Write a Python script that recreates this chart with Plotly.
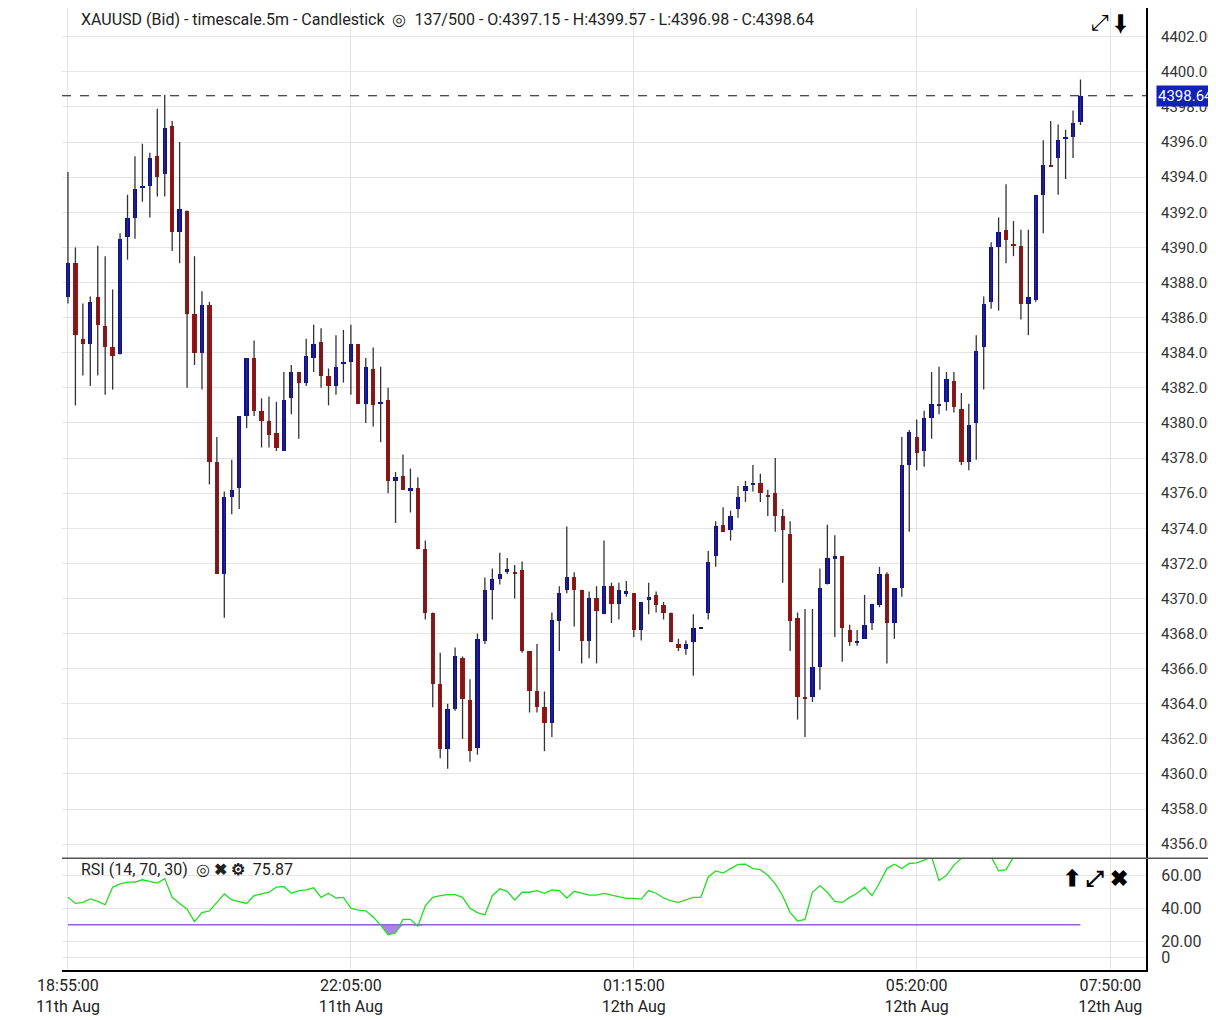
import plotly.graph_objects as go
from plotly.subplots import make_subplots
import numpy as np

# 5m candles, index positions on x
opens = [4387.2, 4389.1, 4384.8, 4384.5, 4387.2, 4385.5, 4384.3, 4383.9, 4390.6, 4391.7,
         4393.4, 4393.5, 4395.2, 4394.2, 4396.9, 4390.9, 4392.1, 4386.2, 4384.0, 4386.7,
         4377.8, 4371.4, 4375.8, 4376.3, 4380.4, 4383.7, 4380.7, 4380.1, 4379.4, 4378.4,
         4381.4, 4382.9, 4382.3, 4383.7, 4384.6, 4382.7, 4382.1, 4383.4, 4383.5, 4384.5,
         4381.1, 4383.1, 4381.1, 4381.3, 4376.7, 4377.0, 4376.1, 4376.3, 4372.8, 4369.2,
         4365.1, 4361.4, 4363.7, 4366.6, 4364.2, 4361.5, 4367.6, 4370.5, 4371.1, 4371.5,
         4371.5, 4371.6, 4367.0, 4364.7, 4363.8, 4362.9, 4368.7, 4370.5, 4371.2, 4370.5,
         4367.6, 4370.0, 4369.1, 4370.7, 4369.7, 4370.3, 4370.3, 4368.2, 4369.9, 4370.2,
         4369.6, 4369.2, 4367.4, 4367.1, 4367.5, 4368.3, 4369.2, 4372.4, 4374.2, 4373.9,
         4375.1, 4376.1, 4376.5, 4376.6, 4375.9, 4376.0, 4374.7, 4373.7, 4368.9, 4364.4,
         4364.4, 4366.1, 4370.8, 4372.3, 4372.4, 4368.2, 4367.5, 4367.7, 4368.6, 4369.6,
         4371.4, 4368.6, 4370.6, 4377.6, 4379.2, 4378.4, 4380.3, 4381.0, 4381.2, 4382.4,
         4380.8, 4377.8, 4380.0, 4384.3, 4386.9, 4390.0, 4391.0, 4390.2, 4390.1, 4386.8,
         4387.0, 4393.0, 4394.7, 4395.1, 4396.2, 4396.3, 4397.15]
highs = [4394.3, 4390.0, 4386.8, 4387.2, 4390.1, 4389.5, 4387.6, 4390.8, 4393.0, 4395.2,
         4395.9, 4395.4, 4397.9, 4398.7, 4397.2, 4396.0, 4392.1, 4389.5, 4387.5, 4386.9,
         4379.2, 4376.1, 4377.9, 4380.4, 4383.7, 4384.7, 4381.4, 4381.5, 4381.2, 4382.9,
         4383.3, 4382.9, 4384.8, 4385.6, 4385.4, 4383.1, 4385.0, 4385.3, 4385.6, 4384.5,
         4383.7, 4384.3, 4383.2, 4382.0, 4377.2, 4378.2, 4377.4, 4376.9, 4373.3, 4369.2,
         4366.9, 4364.0, 4367.2, 4366.7, 4365.4, 4368.0, 4371.2, 4371.7, 4372.6, 4372.3,
         4371.9, 4372.1, 4367.0, 4367.4, 4364.7, 4369.2, 4370.7, 4374.1, 4371.5, 4370.5,
         4370.4, 4370.7, 4373.3, 4370.9, 4370.9, 4371.0, 4370.3, 4369.8, 4370.9, 4370.4,
         4369.8, 4369.2, 4367.7, 4367.6, 4369.1, 4368.3, 4372.7, 4374.4, 4375.2, 4375.0,
         4376.4, 4376.7, 4377.6, 4377.1, 4376.2, 4378.0, 4375.1, 4374.4, 4369.2, 4369.4,
         4369.4, 4371.7, 4374.2, 4373.6, 4372.4, 4368.5, 4368.2, 4370.2, 4369.7, 4371.8,
         4371.5, 4370.6, 4379.2, 4379.6, 4380.2, 4380.7, 4382.9, 4383.2, 4382.9, 4382.9,
         4381.7, 4381.1, 4385.0, 4387.2, 4390.3, 4391.7, 4393.6, 4391.5, 4391.0, 4391.0,
         4393.0, 4396.1, 4397.2, 4397.0, 4396.7, 4397.8, 4399.57]
lows = [4386.8, 4381.0, 4382.7, 4382.1, 4382.7, 4381.6, 4381.9, 4383.9, 4389.3, 4390.5,
        4392.6, 4391.7, 4392.9, 4392.9, 4389.8, 4389.1, 4382.0, 4383.3, 4381.9, 4376.5,
        4371.4, 4368.9, 4374.8, 4375.1, 4379.7, 4380.4, 4378.6, 4378.6, 4378.4, 4378.4,
        4380.5, 4379.1, 4382.1, 4382.9, 4382.0, 4381.0, 4381.6, 4382.3, 4381.6, 4381.1,
        4380.0, 4379.8, 4378.9, 4376.0, 4374.3, 4376.2, 4374.9, 4372.8, 4368.8, 4363.8,
        4360.9, 4360.3, 4363.6, 4362.0, 4360.7, 4361.1, 4367.4, 4368.8, 4370.8, 4371.4,
        4370.0, 4366.9, 4363.5, 4363.5, 4361.3, 4362.1, 4367.0, 4370.3, 4368.4, 4366.3,
        4366.6, 4366.3, 4369.1, 4368.6, 4368.8, 4370.1, 4367.8, 4367.6, 4369.1, 4369.2,
        4368.8, 4367.5, 4367.0, 4366.8, 4365.6, 4368.3, 4368.8, 4371.8, 4373.8, 4373.3,
        4374.6, 4375.5, 4376.1, 4375.5, 4374.7, 4373.8, 4370.9, 4367.0, 4363.1, 4362.1,
        4364.1, 4364.8, 4370.8, 4367.8, 4366.4, 4367.3, 4367.3, 4367.7, 4368.2, 4369.5,
        4366.3, 4367.7, 4370.1, 4373.8, 4377.3, 4377.5, 4379.1, 4380.5, 4380.7, 4380.6,
        4377.6, 4377.3, 4377.9, 4381.9, 4386.5, 4386.4, 4389.1, 4389.5, 4385.9, 4385.0,
        4386.9, 4390.8, 4394.6, 4393.0, 4393.9, 4395.1, 4396.98]
closes = [4389.1, 4385.0, 4384.5, 4386.9, 4385.6, 4384.3, 4383.8, 4390.5, 4391.7, 4393.3,
          4393.5, 4395.1, 4394.0, 4396.8, 4390.9, 4392.2, 4386.2, 4384.0, 4386.7, 4377.8,
          4371.4, 4375.8, 4376.2, 4380.4, 4383.7, 4380.7, 4380.1, 4379.3, 4378.6, 4381.3,
          4382.9, 4382.3, 4383.8, 4384.5, 4382.7, 4382.1, 4383.2, 4383.5, 4384.5, 4381.1,
          4383.2, 4381.0, 4381.2, 4376.7, 4376.9, 4376.2, 4376.3, 4372.8, 4369.2, 4365.1,
          4361.4, 4363.7, 4366.7, 4364.3, 4361.3, 4367.7, 4370.5, 4371.1, 4371.4, 4371.7,
          4371.4, 4367.0, 4364.7, 4363.8, 4362.9, 4368.8, 4370.3, 4371.2, 4370.5, 4367.6,
          4370.0, 4369.3, 4370.7, 4369.7, 4370.5, 4370.4, 4368.2, 4369.8, 4370.1, 4369.6,
          4369.2, 4367.5, 4367.2, 4367.4, 4368.3, 4368.3, 4372.1, 4374.1, 4373.8, 4374.7,
          4375.8, 4376.4, 4376.6, 4376.0, 4375.8, 4374.7, 4373.9, 4368.7, 4364.4, 4364.3,
          4366.1, 4370.6, 4372.3, 4372.4, 4368.3, 4367.5, 4367.6, 4368.5, 4369.7, 4371.4,
          4368.6, 4370.6, 4377.6, 4379.5, 4378.3, 4380.3, 4381.1, 4381.1, 4382.5, 4380.9,
          4377.8, 4379.9, 4384.1, 4386.8, 4390.0, 4390.9, 4390.4, 4390.1, 4386.8, 4387.2,
          4393.0, 4394.7, 4394.6, 4396.1, 4396.3, 4397.1, 4398.64]
rsi = [46.6, 42.9, 43.5, 45.6, 44.1, 42.1, 52.8, 54.8, 55.9, 55.9,
       57.3, 56.5, 55.3, 58.0, 46.6, 42.9, 39.4, 31.8, 37.3, 38.4,
       43.5, 48.7, 45.0, 44.1, 42.9, 47.6, 48.7, 49.7, 52.8, 53.2,
       49.1, 50.7, 51.1, 52.4, 46.6, 49.1, 46.2, 46.6, 40.0, 38.8,
       38.4, 34.6, 29.7, 23.9, 24.9, 33.2, 33.2, 29.1, 41.4, 46.6,
       47.6, 48.2, 48.2, 46.6, 40.0, 37.3, 35.9, 47.6, 51.8, 50.3,
       45.0, 49.7, 49.7, 50.7, 49.1, 51.1, 50.7, 46.2, 50.3, 49.0,
       48.0, 48.0, 49.0, 48.0, 47.0, 46.0, 46.0, 45.5, 50.7, 49.1,
       46.2, 44.5, 43.5, 45.0, 46.6, 46.6, 59.0, 62.7, 61.4, 64.1,
       66.6, 66.8, 64.1, 63.5, 60.0, 54.8, 47.6, 37.3, 32.2, 33.2,
       49.7, 53.8, 49.7, 44.1, 43.5, 46.6, 49.1, 52.8, 47.6, 55.3,
       64.1, 66.8, 64.1, 67.2, 67.6, 69.3, 71.3, 56.9, 60.0, 66.2,
       70.3, 73.0, 77.0, 80.0, 71.3, 62.7, 63.5, 71.0, 76.0, 80.0,
       80.0, 82.0, 80.0, 81.0, 79.0, 77.0, 75.87]

tick_idx = [0, 38, 76, 114, 140]
tick_text = ["18:55:00<br>11th Aug", "22:05:00<br>11th Aug", "01:15:00<br>12th Aug",
             "05:20:00<br>12th Aug", "07:50:00<br>12th Aug"]
price_ticks = list(range(4356, 4405, 2))
rsi_ticks = [60, 40, 20, 10]
rsi_text = ["60.00", "40.00", "20.00", "0"]

BLUE = "#0a0ab4"
RED = "#b40a0a"
FONT = "Roboto"
RSI_FRAC = 112 / 964

n = len(opens)
idx = list(range(n))

fig = make_subplots(rows=2, cols=1, shared_xaxes=True, vertical_spacing=0,
                    row_heights=[1 - RSI_FRAC, RSI_FRAC])

# wicks
wx, wy = [], []
for i in idx:
    wx += [i, i, None]
    wy += [lows[i], highs[i], None]
fig.add_trace(go.Scatter(x=wx, y=wy, mode="lines", line=dict(color="#333333", width=1.3),
                         hoverinfo="skip"), row=1, col=1)

# bodies
colors = [BLUE if c >= o else RED for o, c in zip(opens, closes)]
colors[85] = "#222222"
base = [min(o, c) for o, c in zip(opens, closes)]
size = [max(abs(c - o), 0.1) for o, c in zip(opens, closes)]
fig.add_trace(go.Bar(x=idx, y=size, base=base, marker_color=colors, marker_line_width=0,
                     width=0.58), row=1, col=1)

# last price line
fig.add_hline(y=closes[-1], line=dict(color="#111111", width=1.2, dash="dash"), row=1, col=1)

# RSI
fig.add_trace(go.Scatter(x=idx, y=[30] * n, mode="lines", line=dict(color="#9a5fd0", width=1.5),
                         hoverinfo="skip"), row=2, col=1)
fig.add_trace(go.Scatter(x=idx, y=list(np.minimum(rsi, 30)), mode="lines", line=dict(width=0),
                         fill="tonexty", fillcolor="rgba(160,110,230,0.85)"), row=2, col=1)
fig.add_trace(go.Scatter(x=idx, y=rsi, mode="lines", line=dict(color="#22dd22", width=1.3)),
              row=2, col=1)

fig.update_layout(
    width=1208, height=1008,
    margin=dict(l=54, r=69, t=0, b=44),
    paper_bgcolor="white", plot_bgcolor="white",
    showlegend=False, bargap=0,
    font=dict(family=FONT, size=15, color="#333333"),
)
fig.update_xaxes(range=[-0.8, 144.8], tickvals=tick_idx, ticktext=tick_text,
                 showgrid=True, gridcolor="#e4e4e4", zeroline=False, ticks="")
fig.update_xaxes(showticklabels=False, row=1, col=1)
fig.update_xaxes(showline=True, linecolor="black", linewidth=2, mirror=False,
                 tickfont=dict(size=16, color="#222"), row=2, col=1)
fig.update_yaxes(side="right", range=[4355.2, 4403.64], tickvals=price_ticks,
                 ticktext=[f"{v:.2f}" for v in price_ticks], gridcolor="#e4e4e4",
                 showline=True, linecolor="black", linewidth=2, zeroline=False,
                 ticklabelstandoff=10,
                 tickfont=dict(size=15, color="#333"), row=1, col=1)
fig.update_yaxes(side="right", range=[2.4, 70.4], tickvals=rsi_ticks, ticktext=rsi_text,
                 gridcolor="#e4e4e4", showline=True, linecolor="black", linewidth=2,
                 zeroline=False, ticklabelstandoff=10,
                 tickfont=dict(size=16, color="#333"), row=2, col=1)

# panel separator
fig.add_shape(type="line", xref="paper", yref="paper", x0=0, x1=1.07, y0=RSI_FRAC, y1=RSI_FRAC,
              line=dict(color="#555555", width=1.5))

# labels
fig.add_annotation(xref="paper", yref="paper", x=0.016, y=1.0, xanchor="left", yanchor="top",
                   text="XAUUSD (Bid) - timescale.5m - Candlestick  ◎  137/500 - O:4397.15 - "
                        "H:4399.57 - L:4396.98 - C:4398.64",
                   showarrow=False, font=dict(size=16, color="#222"))
fig.add_annotation(xref="paper", yref="paper", x=0.985, y=1.0, xanchor="right", yanchor="top",
                   text="⤢ ⬇", showarrow=False, font=dict(size=22, color="black"))
fig.add_annotation(xref="paper", yref="y2", x=0.016, y=63.5, xanchor="left",
                   text="RSI (14, 70, 30)  ◎ <b>✖ ⚙</b>  75.87", showarrow=False,
                   font=dict(size=16, color="#222"))
fig.add_annotation(xref="paper", yref="y2", x=0.985, y=58, xanchor="right",
                   text="<b>⬆ ⤢ ✖</b>", showarrow=False, font=dict(size=22, color="black"))
fig.add_annotation(xref="paper", yref="y", x=1.0, y=closes[-1], xanchor="left",
                   text=f"{closes[-1]:.2f}", showarrow=False, bgcolor="#1020b8",
                   font=dict(size=15, color="white"), xshift=10)

fig.write_html("out.html")
